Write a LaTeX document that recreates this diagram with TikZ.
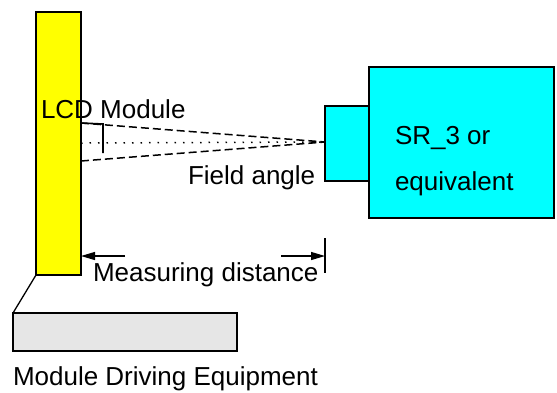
\documentclass[tikz,border=0pt]{standalone}
\usepackage{fontspec}
\setmainfont{Liberation Sans}
\usetikzlibrary{arrows.meta}
\definecolor{lcdyellow}{RGB}{255,255,0}
\definecolor{srcyan}{RGB}{0,255,255}
\definecolor{mdegray}{RGB}{230,230,230}
\begin{document}
\begin{tikzpicture}[x=1pt,y=-1pt,
  box/.style={draw=black,line width=1.6pt,inner sep=0pt,outer sep=0pt,anchor=north west},
  lbl/.style={inner sep=0pt,outer sep=0pt,anchor=base west,font=\fontsize{26}{30}\selectfont},
  ray/.style={line width=1.5pt,dash pattern=on 8pt off 4pt},
  axis/.style={line width=1.5pt,dash pattern=on 1.5pt off 7pt},
  dim/.style={line width=1.2pt,-{Triangle[length=14pt,width=8pt]}}]
\useasboundingbox (0,0) rectangle (557,392);
\node[box,fill=lcdyellow,minimum width=45pt,minimum height=263pt] (lcd) at (36,12) {};
\node[box,fill=mdegray,minimum width=224pt,minimum height=38pt] (mde) at (13,313) {};
\node[box,fill=srcyan,minimum width=185pt,minimum height=151pt] (sr) at (369,67) {};
\node[box,fill=srcyan,minimum width=44pt,minimum height=75pt] (lens) at (325,106) {};
\draw[line width=1.3pt] (lcd.south west) -- (mde.north west);
% rays
\coordinate (top) at (81,123);
\coordinate (mid) at (81,143);
\coordinate (bot) at (81,161);
\coordinate (eye) at (325,142);
\draw[ray] (top) -- (eye);
\draw[ray] (bot) -- (eye);
\draw[axis] (mid) -- (eye);
\coordinate (b1) at (103,124);
\coordinate (b2) at (103,153);
\draw[line width=1.6pt] (top) -- (b1) -- (b2);
% measuring distance
\coordinate (la) at (125,256);
\coordinate (lb) at (81,256);
\coordinate (ra) at (281,256);
\coordinate (rb) at (325,256);
\coordinate (t1) at (325,238);
\coordinate (t2) at (325,273);
\draw[dim] (la) -- (lb);
\draw[dim] (ra) -- (rb);
\draw[line width=1.2pt] (t1) -- (t2);
% labels
\node[lbl] (l1) at (41,118) {LCD Module};
\node[lbl] (l2) at (188,184) {Field angle};
\node[lbl] (l3) at (93,281) {Measuring distance};
\node[lbl] (l4) at (395,144) {SR\_3 or};
\node[lbl] (l5) at (395,190) {equivalent};
\node[lbl] (l6) at (13,385) {Module Driving Equipment};
\end{tikzpicture}
\end{document}
